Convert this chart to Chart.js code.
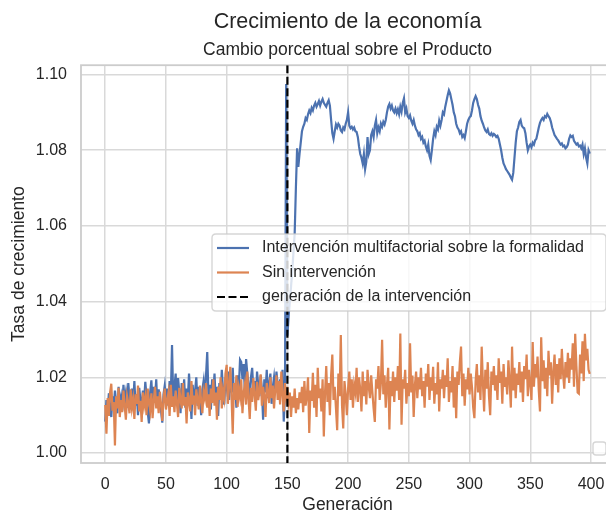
<!DOCTYPE html>
<html>
<head>
<meta charset="utf-8">
<script src="https://cdn.jsdelivr.net/npm/chart.js@4.4.1/dist/chart.umd.min.js"></script>
<style>
html, body { margin: 0; padding: 0; background: #ffffff; overflow: hidden; }
#wrap { position: absolute; left: 0; top: 0; width: 620px; height: 512px; }
</style>
</head>
<body>
<div id="wrap"><canvas id="chart"></canvas></div>
<script>
// ---------------- data ----------------
const titleText = 'Crecimiento de la economía';
const subtitleText = 'Cambio porcentual sobre el Producto';
const xAxisLabel = 'Generación';
const yAxisLabel = 'Tasa de crecimiento';
const seriesNames = ['Intervención multifactorial sobre la formalidad', 'Sin intervención', 'generación de la intervención'];
const interventionGeneration = 150;
const xTicks = [0, 50, 100, 150, 200, 250, 300, 350, 400];
const yTicks = [1.00, 1.02, 1.04, 1.06, 1.08, 1.10];

const withIntervention = [
  1.0083, 1.0140, 1.0110, 1.0158, 1.0125, 1.0095, 1.0150, 1.0118, 1.0165, 1.0135,
  1.0105, 1.0175, 1.0128, 1.0148, 1.0112, 1.0180, 1.0138, 1.0160, 1.0120, 1.0185,
  1.0145, 1.0115, 1.0170, 1.0132, 1.0190, 1.0125, 1.0155, 1.0100, 1.0172, 1.0140,
  1.0118, 1.0165, 1.0135, 1.0188, 1.0150, 1.0108, 1.0078, 1.0160, 1.0192, 1.0130,
  1.0175, 1.0145, 1.0195, 1.0120, 1.0168, 1.0140, 1.0110, 1.0080, 1.0155, 1.0178,
  1.0135, 1.0170, 1.0125, 1.0190, 1.0150, 1.0285, 1.0140, 1.0175, 1.0210, 1.0130,
  1.0198, 1.0160, 1.0105, 1.0185, 1.0148, 1.0195, 1.0120, 1.0170, 1.0140, 1.0210,
  1.0155, 1.0090, 1.0180, 1.0135, 1.0165, 1.0200, 1.0125, 1.0175, 1.0150, 1.0100,
  1.0168, 1.0190, 1.0140, 1.0205, 1.0267, 1.0150, 1.0180, 1.0115, 1.0195, 1.0160,
  1.0210, 1.0135, 1.0175, 1.0098, 1.0185, 1.0150, 1.0220, 1.0165, 1.0128, 1.0200,
  1.0175, 1.0215, 1.0140, 1.0190, 1.0160, 1.0225, 1.0150, 1.0185, 1.0120, 1.0205,
  1.0170, 1.0246, 1.0240, 1.0195, 1.0235, 1.0160, 1.0248, 1.0210, 1.0180, 1.0140,
  1.0200, 1.0225, 1.0165, 1.0190, 1.0135, 1.0215, 1.0180, 1.0150, 1.0205, 1.0170,
  1.0088, 1.0195, 1.0160, 1.0220, 1.0145, 1.0185, 1.0210, 1.0130, 1.0175, 1.0200,
  1.0160, 1.0215, 1.0180, 1.0140, 1.0195, 1.0165, 1.0220, 1.0083, 1.0150, 1.0975,
  1.0310, 1.0360, 1.0400, 1.0440, 1.0480, 1.0530, 1.0580, 1.0700, 1.0805, 1.0756,
  1.0790, 1.0820, 1.0850, 1.0862, 1.0870, 1.0885, 1.0880, 1.0895, 1.0905, 1.0898,
  1.0912, 1.0905, 1.0918, 1.0925, 1.0915, 1.0922, 1.0930, 1.0918, 1.0928, 1.0935,
  1.0925, 1.0920, 1.0915, 1.0925, 1.0932, 1.0918, 1.0880, 1.0845, 1.0830, 1.0850,
  1.0868, 1.0860, 1.0870, 1.0865, 1.0852, 1.0848, 1.0860, 1.0855, 1.0870, 1.0880,
  1.0900, 1.0865, 1.0858, 1.0862, 1.0855, 1.0860, 1.0850, 1.0848, 1.0835, 1.0810,
  1.0790, 1.0780, 1.0765, 1.0790, 1.0750, 1.0770, 1.0835, 1.0790, 1.0800, 1.0840,
  1.0850, 1.0835, 1.0865, 1.0880, 1.0845, 1.0860, 1.0850, 1.0870, 1.0862, 1.0875,
  1.0868, 1.0880, 1.0900, 1.0915, 1.0922, 1.0910, 1.0918, 1.0905, 1.0900, 1.0910,
  1.0898, 1.0908, 1.0895, 1.0915, 1.0902, 1.0925, 1.0937, 1.0900, 1.0910, 1.0890,
  1.0885, 1.0892, 1.0878, 1.0870, 1.0880, 1.0865, 1.0855, 1.0850, 1.0840, 1.0845,
  1.0830, 1.0835, 1.0820, 1.0825, 1.0810, 1.0800, 1.0815, 1.0785, 1.0774, 1.0800,
  1.0830, 1.0850, 1.0840, 1.0862, 1.0855, 1.0878, 1.0865, 1.0880, 1.0900, 1.0895,
  1.0915, 1.0930, 1.0945, 1.0958, 1.0950, 1.0935, 1.0920, 1.0900, 1.0890, 1.0870,
  1.0860, 1.0855, 1.0845, 1.0850, 1.0835, 1.0840, 1.0832, 1.0850, 1.0870, 1.0880,
  1.0887, 1.0890, 1.0905, 1.0925, 1.0935, 1.0943, 1.0935, 1.0920, 1.0910, 1.0890,
  1.0878, 1.0870, 1.0860, 1.0852, 1.0848, 1.0855, 1.0843, 1.0840, 1.0845, 1.0838,
  1.0843, 1.0840, 1.0835, 1.0838, 1.0830, 1.0815, 1.0800, 1.0780, 1.0765, 1.0758,
  1.0750, 1.0745, 1.0740, 1.0735, 1.0728, 1.0722, 1.0740, 1.0780, 1.0820, 1.0850,
  1.0860, 1.0875, 1.0880, 1.0865, 1.0860, 1.0858, 1.0845, 1.0820, 1.0800, 1.0810,
  1.0815, 1.0808, 1.0820, 1.0815, 1.0826, 1.0830, 1.0845, 1.0860, 1.0872, 1.0880,
  1.0885, 1.0880, 1.0890, 1.0887, 1.0896, 1.0890, 1.0885, 1.0875, 1.0860, 1.0850,
  1.0840, 1.0835, 1.0830, 1.0826, 1.0820, 1.0815, 1.0818, 1.0810, 1.0812, 1.0805,
  1.0808, 1.0815, 1.0830, 1.0839, 1.0835, 1.0838, 1.0825, 1.0820, 1.0815, 1.0818,
  1.0810, 1.0812, 1.0805, 1.0815, 1.0790, 1.0805, 1.0780, 1.0765, 1.0800, 1.0791
];

const withoutIntervention = [
  1.0127, 1.0051, 1.0145, 1.0098, 1.0160, 1.0183, 1.0112, 1.0135, 1.0020, 1.0150, 1.0118, 1.0172, 1.0095, 1.0140, 1.0108, 1.0165, 1.0125, 1.0088, 1.0150, 1.0132,
  1.0105, 1.0168, 1.0120, 1.0142, 1.0090, 1.0155, 1.0130, 1.0178, 1.0110, 1.0138, 1.0082, 1.0160, 1.0125, 1.0147, 1.0100, 1.0170, 1.0135, 1.0112, 1.0158, 1.0092,
  1.0140, 1.0175, 1.0118, 1.0150, 1.0105, 1.0162, 1.0128, 1.0085, 1.0145, 1.0170, 1.0115, 1.0138, 1.0158, 1.0098, 1.0180, 1.0122, 1.0150, 1.0108, 1.0165, 1.0132,
  1.0095, 1.0172, 1.0140, 1.0118, 1.0185, 1.0125, 1.0148, 1.0078, 1.0160, 1.0135, 1.0110, 1.0190, 1.0128, 1.0152, 1.0100, 1.0168, 1.0142, 1.0115, 1.0178, 1.0138,
  1.0105, 1.0162, 1.0145, 1.0185, 1.0120, 1.0155, 1.0098, 1.0170, 1.0132, 1.0195, 1.0125, 1.0160, 1.0088, 1.0175, 1.0140, 1.0200, 1.0118, 1.0165, 1.0145, 1.0210,
  1.0233, 1.0130, 1.0178, 1.0228, 1.0150, 1.0051, 1.0185, 1.0140, 1.0205, 1.0122, 1.0170, 1.0148, 1.0195, 1.0105, 1.0160, 1.0182, 1.0128, 1.0215, 1.0145, 1.0090,
  1.0172, 1.0135, 1.0198, 1.0155, 1.0112, 1.0188, 1.0140, 1.0165, 1.0208, 1.0125, 1.0175, 1.0150, 1.0095, 1.0185, 1.0160, 1.0132, 1.0200, 1.0145, 1.0178, 1.0118,
  1.0168, 1.0205, 1.0140, 1.0190, 1.0128, 1.0215, 1.0155, 1.0110, 1.0185, 1.0148, 1.0175, 1.0135, 1.0160, 1.0095, 1.0150, 1.0120, 1.0170, 1.0105, 1.0145, 1.0115,
  1.0160, 1.0132, 1.0175, 1.0108, 1.0190, 1.0125, 1.0150, 1.0200, 1.0053, 1.0165, 1.0138, 1.0212, 1.0120, 1.0180, 1.0095, 1.0225, 1.0145, 1.0170, 1.0110, 1.0195,
  1.0044, 1.0160, 1.0230, 1.0135, 1.0185, 1.0100, 1.0205, 1.0260, 1.0140, 1.0175, 1.0118, 1.0060, 1.0210, 1.0150, 1.0312, 1.0125, 1.0065, 1.0190, 1.0155, 1.0100,
  1.0170, 1.0215, 1.0140, 1.0195, 1.0120, 1.0180, 1.0160, 1.0225, 1.0135, 1.0200, 1.0168, 1.0110, 1.0215, 1.0150, 1.0190, 1.0128, 1.0220, 1.0175, 1.0145, 1.0205,
  1.0160, 1.0118, 1.0082, 1.0195, 1.0170, 1.0230, 1.0140, 1.0185, 1.0299, 1.0155, 1.0205, 1.0120, 1.0180, 1.0225, 1.0062, 1.0190, 1.0150, 1.0215, 1.0135, 1.0200,
  1.0165, 1.0230, 1.0140, 1.0316, 1.0075, 1.0195, 1.0170, 1.0220, 1.0130, 1.0185, 1.0150, 1.0290, 1.0160, 1.0205, 1.0095, 1.0180, 1.0215, 1.0145, 1.0200, 1.0168,
  1.0225, 1.0150, 1.0190, 1.0120, 1.0210, 1.0175, 1.0235, 1.0140, 1.0200, 1.0165, 1.0228, 1.0130, 1.0185, 1.0155, 1.0240, 1.0110, 1.0195, 1.0170, 1.0220, 1.0145,
  1.0205, 1.0175, 1.0250, 1.0135, 1.0190, 1.0160, 1.0230, 1.0120, 1.0200, 1.0092, 1.0215, 1.0180, 1.0240, 1.0281, 1.0150, 1.0210, 1.0125, 1.0195, 1.0168, 1.0225,
  1.0155, 1.0210, 1.0175, 1.0120, 1.0092, 1.0190, 1.0235, 1.0160, 1.0205, 1.0140, 1.0281, 1.0185, 1.0110, 1.0220, 1.0170, 1.0240, 1.0150, 1.0100, 1.0215, 1.0180,
  1.0230, 1.0165, 1.0205, 1.0140, 1.0250, 1.0185, 1.0215, 1.0130, 1.0235, 1.0175, 1.0200, 1.0155, 1.0245, 1.0190, 1.0120, 1.0281, 1.0165, 1.0225, 1.0145, 1.0210,
  1.0180, 1.0240, 1.0160, 1.0215, 1.0135, 1.0230, 1.0195, 1.0260, 1.0150, 1.0220, 1.0185, 1.0140, 1.0293, 1.0175, 1.0235, 1.0200, 1.0255, 1.0165, 1.0110, 1.0306,
  1.0190, 1.0245, 1.0170, 1.0225, 1.0150, 1.0270, 1.0205, 1.0240, 1.0130, 1.0215, 1.0260, 1.0180, 1.0235, 1.0160, 1.0250, 1.0195, 1.0275, 1.0210, 1.0170, 1.0240,
  1.0200, 1.0265, 1.0185, 1.0250, 1.0220, 1.0290, 1.0175, 1.0315, 1.0230, 1.0160, 1.0157, 1.0260, 1.0210, 1.0295, 1.0190, 1.0315, 1.0245, 1.0275, 1.0220, 1.0209
];

const generations = withoutIntervention.map((_, i) => i);

// ---------------- style ----------------
const FONT = "'Liberation Sans', Arial, Helvetica, sans-serif";
const TEXT = '#262626';
const GRID = '#d9d9d9';
const EDGE = '#cccccc';
const BLUE = '#4c72b0';
const ORANGE = '#dd8452';
const LW = 2.2;
const DASH = [8, 3.5];

const framePlugin = {
  id: 'frame',
  beforeDatasetsDraw(chart) {
    const { ctx, chartArea: a } = chart;
    ctx.save();
    ctx.strokeStyle = EDGE;
    ctx.lineWidth = 1.8;
    ctx.strokeRect(a.left, a.top, a.right - a.left, a.bottom - a.top);
    ctx.restore();
  }
};

const vlinePlugin = {
  id: 'vline',
  afterDatasetsDraw(chart) {
    const { ctx, chartArea: a, scales } = chart;
    const x = scales.x.getPixelForValue(interventionGeneration);
    ctx.save();
    ctx.beginPath();
    ctx.rect(a.left, a.top, a.right - a.left, a.bottom - a.top);
    ctx.clip();
    ctx.strokeStyle = '#000000';
    ctx.lineWidth = LW;
    ctx.setLineDash(DASH);
    ctx.beginPath();
    ctx.moveTo(x, a.top);
    ctx.lineTo(x, a.bottom);
    ctx.stroke();
    ctx.restore();
  }
};

function roundRect(ctx, x, y, w, h, r) {
  ctx.beginPath();
  ctx.moveTo(x + r, y);
  ctx.lineTo(x + w - r, y);
  ctx.quadraticCurveTo(x + w, y, x + w, y + r);
  ctx.lineTo(x + w, y + h - r);
  ctx.quadraticCurveTo(x + w, y + h, x + w - r, y + h);
  ctx.lineTo(x + r, y + h);
  ctx.quadraticCurveTo(x, y + h, x, y + h - r);
  ctx.lineTo(x, y + r);
  ctx.quadraticCurveTo(x, y, x + r, y);
  ctx.closePath();
}

const legendPlugin = {
  id: 'customLegend',
  afterDraw(chart) {
    const { ctx, chartArea: a } = chart;
    ctx.save();
    // main legend
    const bx = 212, by = 234, bw = (a.right - 8) - 212, bh = 77;
    roundRect(ctx, bx, by, bw, bh, 4);
    ctx.fillStyle = 'rgba(255,255,255,0.8)';
    ctx.fill();
    ctx.strokeStyle = 'rgba(204,204,204,0.8)';
    ctx.lineWidth = 1.4;
    ctx.stroke();
    const rows = [248, 272.5, 297];
    const colors = [BLUE, ORANGE, '#000000'];
    rows.forEach((y, i) => {
      ctx.beginPath();
      ctx.strokeStyle = colors[i];
      ctx.lineWidth = LW;
      ctx.setLineDash(i === 2 ? DASH : []);
      ctx.moveTo(217, y);
      ctx.lineTo(249, y);
      ctx.stroke();
      ctx.setLineDash([]);
      ctx.fillStyle = TEXT;
      ctx.font = '16px ' + FONT;
      ctx.textAlign = 'left';
      ctx.textBaseline = 'middle';
      ctx.fillText(seriesNames[i], 262, y);
    });
    // empty legend (bottom right)
    roundRect(ctx, a.right - 8 - 13, a.bottom - 8 - 13, 13, 13, 3);
    ctx.fillStyle = 'rgba(255,255,255,0.8)';
    ctx.fill();
    ctx.strokeStyle = 'rgba(204,204,204,0.8)';
    ctx.lineWidth = 1.4;
    ctx.stroke();
    ctx.restore();
  }
};

new Chart(document.getElementById('chart'), {
  type: 'line',
  data: {
    labels: generations,
    datasets: [
      { label: seriesNames[0], data: withIntervention, borderColor: BLUE, backgroundColor: BLUE,
        borderWidth: LW, pointRadius: 0, tension: 0, fill: false, order: 1 },
      { label: seriesNames[1], data: withoutIntervention, borderColor: ORANGE, backgroundColor: ORANGE,
        borderWidth: LW, pointRadius: 0, tension: 0, fill: false, order: 0 }
    ]
  },
  options: {
    responsive: true,
    maintainAspectRatio: false,
    animation: false,
    devicePixelRatio: 1,
    layout: { padding: { left: 0, right: 6, top: 0, bottom: 0 } },
    plugins: {
      legend: { display: false },
      tooltip: { enabled: false },
      title: {
        display: true, text: titleText, color: TEXT, fullSize: false,
        font: { family: FONT, size: 21.5, weight: 'normal' },
        padding: { top: 9, bottom: 1 }
      },
      subtitle: {
        display: true, text: subtitleText, color: TEXT, fullSize: false,
        font: { family: FONT, size: 17.5, weight: 'normal' },
        padding: { top: 3.4, bottom: 5 }
      }
    },
    scales: {
      x: {
        type: 'linear', min: -19.95, max: 418.95,
        grid: { color: GRID, lineWidth: 1.5, drawTicks: false },
        border: { display: false },
        afterBuildTicks: (axis) => { axis.ticks = xTicks.map(v => ({ value: v })); },
        afterFit: (s) => { s.height = 49; },
        ticks: { color: TEXT, font: { family: FONT, size: 16 }, padding: 12, autoSkip: false, maxRotation: 0,
                 callback: (v) => String(v) },
        title: { display: true, text: xAxisLabel, color: TEXT, font: { family: FONT, size: 17.5 }, padding: { top: 0, bottom: -4 } }
      },
      y: {
        type: 'linear', min: 0.99736, max: 1.10246,
        grid: { color: GRID, lineWidth: 1.5, drawTicks: false },
        border: { display: false },
        afterBuildTicks: (axis) => { axis.ticks = yTicks.map(v => ({ value: v })); },
        afterFit: (s) => { s.width = 81; },
        ticks: { color: TEXT, font: { family: FONT, size: 16 }, padding: 14, autoSkip: false,
                 callback: (v) => Number(v).toFixed(2) },
        title: { display: true, text: yAxisLabel, color: TEXT, font: { family: FONT, size: 17.5 }, padding: { top: 9, bottom: 0 } }
      }
    }
  },
  plugins: [framePlugin, vlinePlugin, legendPlugin]
});
</script>
</body>
</html>
